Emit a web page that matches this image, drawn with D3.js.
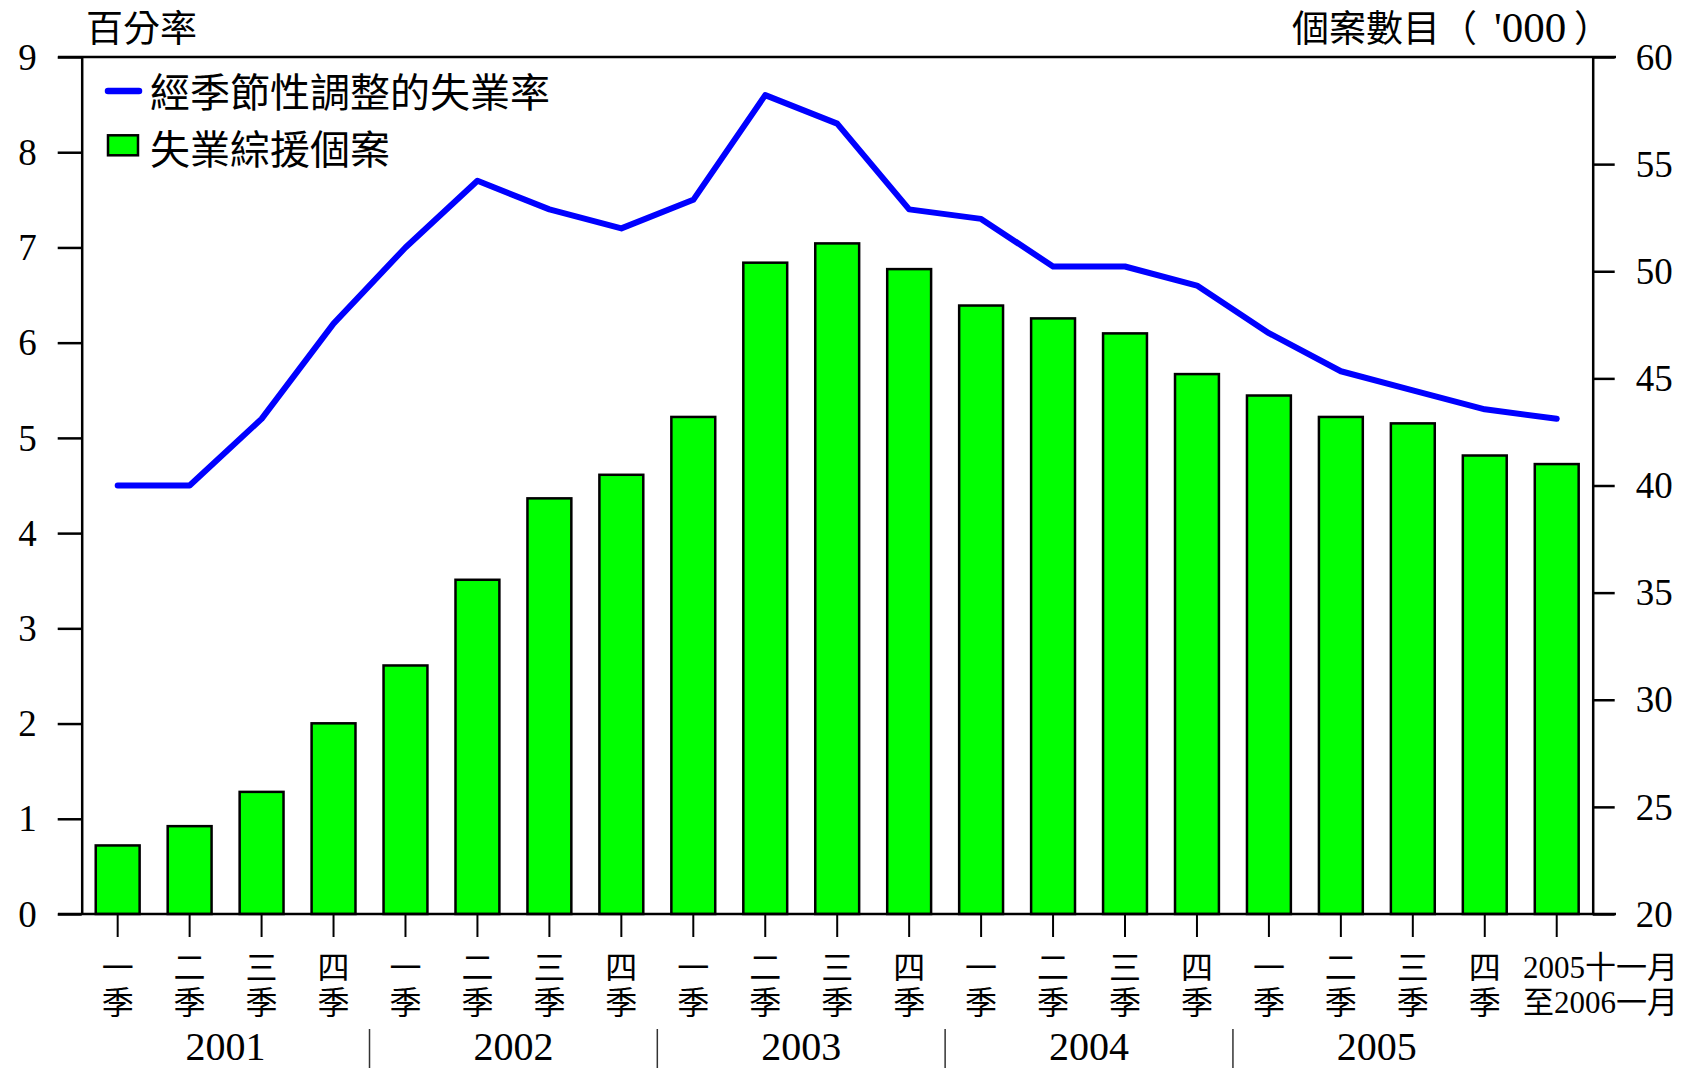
<!DOCTYPE html>
<html>
<head>
<meta charset="utf-8">
<script src="https://cdn.jsdelivr.net/npm/d3@7"></script>
<style>
  html, body { margin: 0; padding: 0; background: #fff; }
  svg { display: block; }
</style>
</head>
<body>
<svg id="chart" width="1690" height="1068"></svg>
<script>
// ---------------- data ----------------
const categories = [
  "2001Q1","2001Q2","2001Q3","2001Q4",
  "2002Q1","2002Q2","2002Q3","2002Q4",
  "2003Q1","2003Q2","2003Q3","2003Q4",
  "2004Q1","2004Q2","2004Q3","2004Q4",
  "2005Q1","2005Q2","2005Q3","2005Q4",
  "2005Nov-2006Jan"
];
const labelLine1 = ["一","二","三","四","一","二","三","四","一","二","三","四",
                    "一","二","三","四","一","二","三","四","2005十一月"];
const labelLine2 = ["季","季","季","季","季","季","季","季","季","季","季","季",
                    "季","季","季","季","季","季","季","季","至2006一月"];
const years = ["2001","2002","2003","2004","2005"];
const yearGroups = [[0,3],[4,7],[8,11],[12,15],[16,19]];

// seasonally adjusted unemployment rate (%)
const rateValues = [4.5,4.5,5.2,6.2,7.0,7.7,7.4,7.2,7.5,8.6,8.3,7.4,
                    7.3,6.8,6.8,6.6,6.1,5.7,5.5,5.3,5.2];
// CSSA unemployment cases ('000)
const caseValues = [23.2,24.1,25.7,28.9,31.6,35.6,39.4,40.5,43.2,50.4,51.3,50.1,
                    48.4,47.8,47.1,45.2,44.2,43.2,42.9,41.4,41.0];

const leftTicks = [0,1,2,3,4,5,6,7,8,9];
const rightTicks = [20,25,30,35,40,45,50,55,60];

const leftTitle = "百分率";
const rightTitle = ["個案數目", "（", "'000", "）"];
const legendLine = "經季節性調整的失業率";
const legendBar = "失業綜援個案";

// ---------------- layout ----------------
const L = 81.7, R = 1592.7, T = 57, B = 914;
const SERIF = "Liberation Serif";
const CJK = "Noto Sans CJK TC";
const MIXED = "Liberation Serif, Noto Sans CJK TC";

const svg = d3.select("#chart");

const x = d3.scaleBand().domain(categories).range([L, R]).paddingInner(0.39).paddingOuter(0.195);
const yL = d3.scaleLinear().domain([0, 9]).range([B, T]);
const yR = d3.scaleLinear().domain([20, 60]).range([B, T]);

// bars
svg.append("g").selectAll("rect")
  .data(categories)
  .join("rect")
  .attr("x", d => x(d))
  .attr("width", x.bandwidth())
  .attr("y", (d, i) => yR(caseValues[i]))
  .attr("height", (d, i) => yR(20) - yR(caseValues[i]))
  .attr("fill", "#00ff00")
  .attr("stroke", "#000")
  .attr("stroke-width", 2.5);

// frame top & bottom
svg.append("line").attr("x1", 58).attr("x2", 1616).attr("y1", T).attr("y2", T)
  .attr("stroke", "#000").attr("stroke-width", 2.5);
svg.append("line").attr("x1", 58).attr("x2", 1616).attr("y1", B).attr("y2", B)
  .attr("stroke", "#000").attr("stroke-width", 2.5);

// left axis
const gL = svg.append("g").attr("transform", `translate(${L},0)`)
  .call(d3.axisLeft(yL).tickValues(leftTicks).tickSize(24).tickSizeOuter(0).tickPadding(21)
        .tickFormat(d3.format("d")));
// right axis
const gR = svg.append("g").attr("transform", `translate(${R},0)`)
  .call(d3.axisRight(yR).tickValues(rightTicks).tickSize(22).tickSizeOuter(0).tickPadding(21)
        .tickFormat(d3.format("d")));
[gL, gR].forEach(g => {
  g.select(".domain").attr("stroke-width", 2.5);
  g.selectAll(".tick line").attr("stroke-width", 2.5);
  g.selectAll(".tick text").style("font-family", SERIF).style("font-size", "37px")
    .attr("fill", "#000").attr("dy", "0.33em");
});

// bottom axis (ticks only)
const gX = svg.append("g").attr("transform", `translate(0,${B})`)
  .call(d3.axisBottom(x).tickSize(23).tickSizeOuter(0).tickFormat(""));
gX.select(".domain").remove();
gX.selectAll(".tick line").attr("stroke-width", 2);

// x labels
const labG = svg.append("g").attr("fill", "#000");
categories.forEach((c, i) => {
  const last = i === categories.length - 1;
  const cx = last ? 1678 : x(c) + x.bandwidth() / 2;
  const anchor = last ? "end" : "middle";
  const fs = last ? 31 : 32;
  [[labelLine1[i], 967], [labelLine2[i], 1002]].forEach(([t, cy]) => {
    labG.append("text").attr("x", cx).attr("y", cy + 0.36 * fs)
      .attr("text-anchor", anchor)
      .style("font-family", MIXED).style("font-size", fs + "px").text(t);
  });
});

// year labels and separators
const gap = (x.step() - x.bandwidth()) / 2;
years.forEach((yr, k) => {
  const [a, b] = yearGroups[k];
  const x0 = x(categories[a]) - gap, x1 = x(categories[b]) + x.bandwidth() + gap;
  svg.append("text").attr("x", (x0 + x1) / 2).attr("y", 1060)
    .attr("text-anchor", "middle").attr("fill", "#000")
    .style("font-family", SERIF).style("font-size", "40px").text(yr);
  if (k > 0) {
    svg.append("line").attr("x1", x0).attr("x2", x0).attr("y1", 1029).attr("y2", 1068)
      .attr("stroke", "#333").attr("stroke-width", 1.5);
  }
});

// line
const line = d3.line()
  .x((d, i) => x(categories[i]) + x.bandwidth() / 2)
  .y(d => yL(d));
svg.append("path").datum(rateValues).attr("d", line)
  .attr("fill", "none").attr("stroke", "#0000ff").attr("stroke-width", 6)
  .attr("stroke-linejoin", "round").attr("stroke-linecap", "round");

// titles
svg.append("text").attr("x", 86).attr("y", 42).attr("fill", "#000")
  .style("font-family", CJK).style("font-size", "37px").text(leftTitle);
const rt = svg.append("text").attr("y", 42).attr("fill", "#000").style("font-size", "37px");
rt.append("tspan").attr("x", 1292).style("font-family", CJK).text(rightTitle[0]);
rt.append("tspan").attr("x", 1440).style("font-family", CJK).text(rightTitle[1]);
rt.append("tspan").attr("x", 1494).style("font-family", SERIF).style("font-size", "43px").text(rightTitle[2]);
rt.append("tspan").attr("x", 1574).style("font-family", CJK).text(rightTitle[3]);

// legend
svg.append("line").attr("x1", 108).attr("x2", 139).attr("y1", 91).attr("y2", 91)
  .attr("stroke", "#0000ff").attr("stroke-width", 6.5).attr("stroke-linecap", "round");
svg.append("rect").attr("x", 108).attr("y", 135.3).attr("width", 30).attr("height", 20)
  .attr("fill", "#00ff00").attr("stroke", "#000").attr("stroke-width", 2.5);
svg.append("text").attr("x", 150).attr("y", 93 + 14.4).attr("fill", "#000")
  .style("font-family", CJK).style("font-size", "40px").text(legendLine);
svg.append("text").attr("x", 150).attr("y", 149.5 + 14.4).attr("fill", "#000")
  .style("font-family", CJK).style("font-size", "40px").text(legendBar);
</script>
</body>
</html>
